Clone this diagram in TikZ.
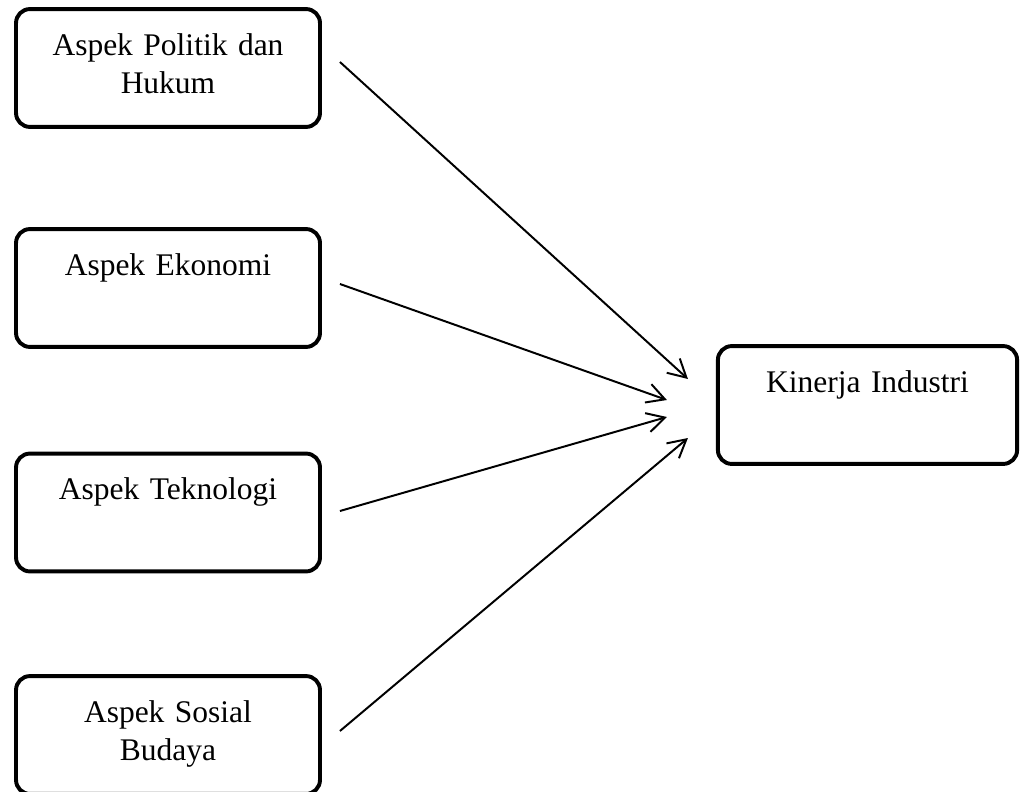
\documentclass[tikz,border=0pt]{standalone}
\usepackage{fontspec}
\setmainfont{Liberation Serif}
\usetikzlibrary{arrows.meta}

\tikzset{
    faktor/.style={draw,line width=1.5pt,rounded corners=5.3pt,inner sep=0pt,
        text width=115.8pt,align=center,text height=17.5pt,text depth=27.4pt},
    panah/.style={line width=0.75pt,-{Straight Barb[length=6.8pt,width=7.4pt,line width=0.75pt]}},
}

\begin{document}
\begin{tikzpicture}[x=0.381pt,y=-0.381pt,font=\fontsize{12}{14.5}\selectfont]
    \useasboundingbox (0,0) rectangle (1021,791);
    \foreach \nama/\ypos/\teks in {pol/68/{Aspek Politik dan\\Hukum},eko/288/{Aspek Ekonomi},
        tek/512.5/{Aspek Teknologi},sos/735/{Aspek Sosial\\Budaya}}{
        \node[faktor] (\nama) at (168,\ypos) {\teks};
    }
    \node[faktor,text width=114pt] (kin) at (867.5,405) {Kinerja Industri};
    % panah ke kinerja
    \foreach \nama/\ay/\bx/\by in {pol/-6/-28/-26,eko/-4/-49/-5,tek/-1.5/-49/12,sos/-4/-28/33}{
        \draw[panah] ([shift={(18,\ay)}]\nama.east) -- ([shift={(\bx,\by)}]kin.west);
    }
\end{tikzpicture}
\end{document}
